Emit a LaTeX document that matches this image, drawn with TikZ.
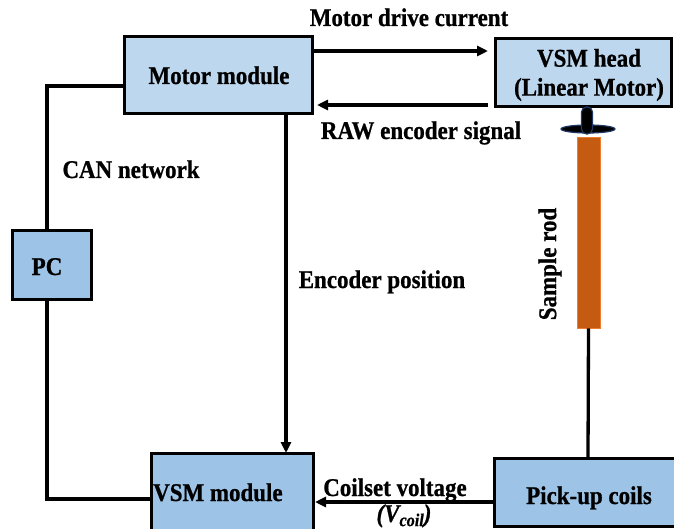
\documentclass[tikz,border=0pt]{standalone}
\usepackage{fontspec}
\setmainfont{Liberation Serif}
\newfontfamily\lblfont[FakeStretch=0.9,FakeBold=0.8]{Liberation Serif}
\usetikzlibrary{arrows.meta,shapes.geometric}
\definecolor{lightbox}{HTML}{BDD7EE}
\definecolor{darkbox}{HTML}{9DC3E6}
\definecolor{rodfill}{HTML}{C55A11}
\definecolor{rodline}{HTML}{ED7D31}
\definecolor{knobline}{HTML}{1F3864}
\tikzset{
  boxlight/.style={draw=black, line width=3pt, fill=lightbox, inner sep=0pt},
  boxdark/.style={draw=black, line width=3pt, fill=darkbox, inner sep=0pt},
  lbl/.style={font=\lblfont\bfseries\fontsize{25.5}{29}\selectfont, inner sep=0pt, align=center},
  conn/.style={draw=black, line width=3.3pt},
  arr/.style={conn, -{Triangle[length=11pt,width=10pt]}},
}
\begin{document}
\begin{tikzpicture}[x=1pt,y=-1pt]
\useasboundingbox (0,0) rectangle (674,529);
\begin{scope}
\clip (0,0) rectangle (674,529);
% boxes
\node[boxlight, minimum width=188pt, minimum height=77pt] (mm) at (218,75.5) {};
\node[boxlight, minimum width=176pt, minimum height=68pt] (head) at (583,73) {};
\node[boxdark, minimum width=79pt, minimum height=68pt] (pc) at (51.5,265) {};
\node[boxdark, minimum width=162pt, minimum height=90pt] (vsm) at (232,498) {};
\node[boxdark, minimum width=190pt, minimum height=68pt] (pick) at (589,492) {};
% rod and knob
\node[draw=rodline, line width=0.6pt, fill=rodfill, minimum width=23pt, minimum height=191pt, inner sep=0pt] (rod) at (588.5,232.5) {};
\node[draw=knobline, line width=1.2pt, fill=black, ellipse, minimum width=54pt, minimum height=8pt, inner sep=0pt] (disc) at (588,129) {};
\node[draw=knobline, line width=1.2pt, fill=black, rounded corners=5pt, minimum width=11pt, minimum height=27pt, inner sep=0pt] (stick) at (587,120.5) {};
% labels
\node[lbl, anchor=base] (mmtxt) at (219,84) {Motor module};
\node[lbl] (headtxt) at (589,75) {VSM head\\(Linear Motor)};
\node[lbl, anchor=base] (pctxt) at (47,275) {PC};
\node[lbl, anchor=base west] (vsmtxt) at (153,501) {VSM module};
\node[lbl, anchor=base] (picktxt) at (589,504) {Pick-up coils};
\node[lbl, anchor=base] (l1) at (409,26) {Motor drive current};
\node[lbl, anchor=base] (l2) at (421,139) {RAW encoder signal};
\node[lbl, anchor=base] (l3) at (131,178) {CAN network};
\node[lbl, anchor=base] (l4) at (382,288) {Encoder position};
\node[lbl, rotate=90] (l5) at (550,264) {Sample rod};
\node[lbl, anchor=base] (l6) at (395,496) {Coilset voltage};
\node[lbl, anchor=base] (l7) at (404,522) {\itshape (V\raisebox{-0.35ex}{\fontsize{18}{18}\selectfont coil})};
% connector points
\coordinate (c1) at (47,86);
\coordinate (c2) at (47,499);
\coordinate (c1e) at (124,86);
\coordinate (c2e) at (151,499);
\coordinate (a1s) at (312,51);
\coordinate (a1e) at (488,51);
\coordinate (a2s) at (488,105);
\coordinate (a2e) at (317,105);
\coordinate (a3s) at (286,114);
\coordinate (a3e) at (286,453);
\coordinate (a4s) at (493,502);
\coordinate (a4e) at (315,502);
\coordinate (r1) at (588,458);
% connectors
\draw[conn] (c1e) -- (c1) -- (c1 |- pc.north);
\draw[conn] (c1 |- pc.south) -- (c2) -- (c2e);
\draw[arr] (a1s) -- (a1e);
\draw[arr] (a2s) -- (a2e);
\draw[arr] (a3s) -- (a3e);
\draw[conn] (rod.south) -- (r1);
\draw[arr] (a4s) -- (a4e);
\end{scope}
\end{tikzpicture}
\end{document}
